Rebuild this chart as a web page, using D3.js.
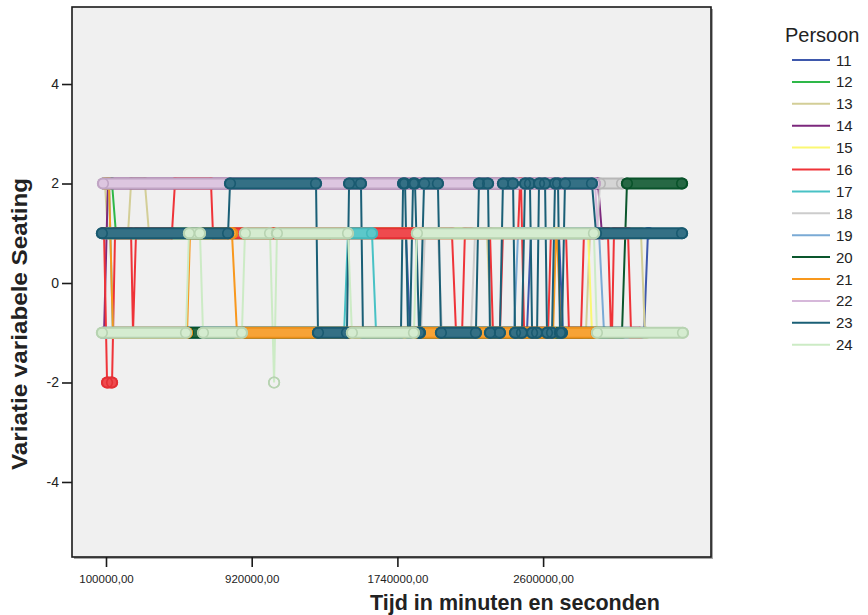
<!DOCTYPE html>
<html><head><meta charset="utf-8">
<script src="https://cdn.jsdelivr.net/npm/d3@7"></script>
<style>body{margin:0;background:#fff;} svg{display:block;font-family:"Liberation Sans",Arial,sans-serif;}</style>
</head><body><svg id="c" width="868" height="615"></svg>
<script>
// ---- data ----
const persons = ["11","12","13","14","15","16","17","18","19","20","21","22","23","24"];
const colors = ["#3E58AC","#2EB848","#D3CE97","#7C287D","#FBF873","#EF3338","#48C2C5","#CCCCCC","#7AAAD5","#0A562C","#F8981D","#D6B8DA","#1A5F76","#CCEBC5"];
const yTicks = [-4, -2, 0, 2, 4];
const xTicks = [100000, 920000, 1740000, 2560000];
const xTickLabels = ["100000,00", "920000,00", "1740000,00", "2600000,00"];

// runs per person: [start time, end time, seating value]
const runs11 = [[89000,1788000,1],[1811000,2469000,-1],[2492000,2649000,1],[2672000,3128000,-1],[3150000,3156000,1]];
const runs12 = [[89000,134000,2],[156000,1361000,1]];
const runs13 = [[89000,94000,2],[111000,224000,1],[241000,319000,2],[342000,2244000,1],[2267000,2801000,-1],[2824000,3111000,1],[3133000,3139000,-1]];
const runs14 = [[83000,89000,-1],[111000,2869000,2],[2891000,2897000,1]];
const runs15 = [[89000,2813000,1],[2835000,2880000,-1]];
const runs16 = [[83000,89000,1],[106000,134000,-2],[151000,241000,1],[252000,252000,-1],[269000,471000,1],[488000,691000,2],[702000,2047000,1],[2070000,2104000,-1],[2120000,2261000,1],[2278000,2317000,-1],[2334000,2419000,1],[2430000,2436000,2],[2453000,2588000,-1],[2604000,2689000,1],[2706000,2773000,-1],[2790000,2925000,1],[2942000,2948000,-1],[2959000,3038000,1],[3055000,3105000,-1]];
const runs17 = [[89000,117000,2],[139000,1440000,-1],[1462000,1597000,1],[1620000,2317000,-1]];
const runs18 = [[89000,1873000,-1],[1895000,1968000,1],[1991000,2154000,-1],[2177000,2863000,1],[2880000,3004000,2]];
const runs19 = [[89000,2396000,-1],[2419000,2875000,1],[2903000,2908000,-1]];
const runs20 = [[561000,3004000,-1],[3032000,3342000,2]];
const runs21 = [[89000,117000,2],[139000,556000,-1],[573000,809000,1],[837000,2616000,-1],[2633000,2638000,1],[2661000,2858000,-1]];
const runs22 = [[83000,2852000,2],[2869000,2880000,1]];
const runs23 = [[77000,787000,1],[798000,1282000,2],[1293000,1456000,-1],[1468000,1535000,2],[1546000,1760000,-1],[1772000,1783000,2],[1800000,1811000,-1],[1828000,1839000,2],[1862000,1867000,-1],[1890000,1968000,2],[1985000,2182000,-1],[2199000,2250000,2],[2261000,2317000,-1],[2334000,2391000,2],[2402000,2441000,-1],[2458000,2486000,2],[2498000,2526000,-1],[2537000,2571000,2],[2582000,2610000,-1],[2627000,2644000,2],[2655000,2666000,-1],[2683000,2835000,2],[2858000,3342000,1]];
const runs24 = [[77000,550000,-1],[567000,629000,1],[646000,865000,-1],[882000,1023000,1],[1046000,1046000,-2],[1062000,1462000,1],[1484000,1833000,-1],[1850000,2846000,1],[2863000,3347000,-1]];
const allRuns = [runs11,runs12,runs13,runs14,runs15,runs16,runs17,runs18,runs19,runs20,runs21,runs22,runs23,runs24];

// ---- layout ----
const L = 72, R = 711, T = 7, B = 557;
const svg = d3.select("#c");
const x = d3.scaleLinear().domain([-91352, 3504940]).range([L, R]);
const y = d3.scaleLinear().domain([-5.5, 5.5]).range([556.6, 9.4]);

svg.append("rect").attr("x", L+2).attr("y", T+2).attr("width", R-L).attr("height", B-T).attr("fill", "#a8a8a8");
svg.append("rect").attr("x", L).attr("y", T).attr("width", R-L).attr("height", B-T).attr("fill", "#F0F0F0");

const series = persons.map((p, i) => ({p, color: colors[i], runs: allRuns[i]}));

// connecting lines
const line = d3.line().x(d => x(d[0])).y(d => y(d[1]));
const gl = svg.append("g");
series.forEach(s => {
  const pts = s.runs.flatMap(r => [[r[0], r[2]], [r[1], r[2]]]);
  gl.append("path").attr("d", line(pts)).attr("fill", "none")
    .attr("stroke", s.color).attr("stroke-width", 2);
});

// markers (dense hollow circles, drawn as bands)
const gm = svg.append("g");
series.forEach(s => {
  const lum = d3.hsl(s.color).l;
  const dark = d3.color(s.color).darker(lum > 0.6 ? 0.3 : 0.15).formatHex();
  const inner = d3.interpolateRgb(s.color, "#f0f0f0")(lum > 0.6 ? 0.25 : 0.12);
  s.runs.forEach(r => {
    if (r[1] > r[0]) {
      gm.append("line").attr("x1", x(r[0])).attr("x2", x(r[1])).attr("y1", y(r[2])).attr("y2", y(r[2]))
        .attr("stroke", dark).attr("stroke-width", 12).attr("stroke-linecap", "round");
      gm.append("line").attr("x1", x(r[0])).attr("x2", x(r[1])).attr("y1", y(r[2])).attr("y2", y(r[2]))
        .attr("stroke", inner).attr("stroke-width", 8).attr("stroke-linecap", "round");
    }
    [r[0], r[1]].forEach(t => {
      gm.append("circle").attr("cx", x(t)).attr("cy", y(r[2])).attr("r", 5.3)
        .attr("fill", "none").attr("stroke", dark).attr("stroke-width", 1.6);
    });
  });
});

// frame
svg.append("rect").attr("x", L).attr("y", T).attr("width", R-L).attr("height", B-T)
  .attr("fill", "none").attr("stroke", "#1a1a1a").attr("stroke-width", 1.6);

// axes
const ya = svg.append("g").attr("transform", `translate(${L},0)`)
  .call(d3.axisLeft(y).tickValues(yTicks).tickSize(10).tickPadding(3).tickFormat(d => String(d)));
ya.select(".domain").remove();
ya.selectAll("line").attr("stroke", "#1a1a1a").attr("stroke-width", 1.6);
ya.selectAll("text").attr("font-size", 14).attr("fill", "#222").style("font-family", "Liberation Sans, Arial");

const xa = svg.append("g").attr("transform", `translate(0,${B})`)
  .call(d3.axisBottom(x).tickValues(xTicks).tickSize(10).tickPadding(8).tickFormat((d, i) => xTickLabels[i]));
xa.select(".domain").remove();
xa.selectAll("line").attr("stroke", "#1a1a1a").attr("stroke-width", 1.6);
xa.selectAll("text").attr("font-size", 11.5).attr("fill", "#222").style("font-family", "Liberation Sans, Arial");

// titles
svg.append("text").attr("x", 515).attr("y", 610).attr("text-anchor", "middle")
  .attr("font-size", 21.5).attr("font-weight", "bold").attr("fill", "#222").text("Tijd in minuten en seconden");
svg.append("text").attr("transform", "translate(27,324) rotate(-90)").attr("text-anchor", "middle")
  .attr("font-size", 22).attr("font-weight", "bold").attr("fill", "#222")
  .attr("textLength", 292).attr("lengthAdjust", "spacingAndGlyphs").text("Variatie variabele Seating");

// legend
const lg = svg.append("g");
lg.append("text").attr("x", 785).attr("y", 42).attr("font-size", 20).attr("fill", "#222").text("Persoon");
series.forEach((s, i) => {
  const yy = 60 + i * 21.9;
  lg.append("line").attr("x1", 792).attr("x2", 830).attr("y1", yy).attr("y2", yy)
    .attr("stroke", s.color).attr("stroke-width", 2);
  lg.append("text").attr("x", 836).attr("y", yy + 5.5).attr("font-size", 15).attr("fill", "#222").text(s.p);
});
</script></body></html>
